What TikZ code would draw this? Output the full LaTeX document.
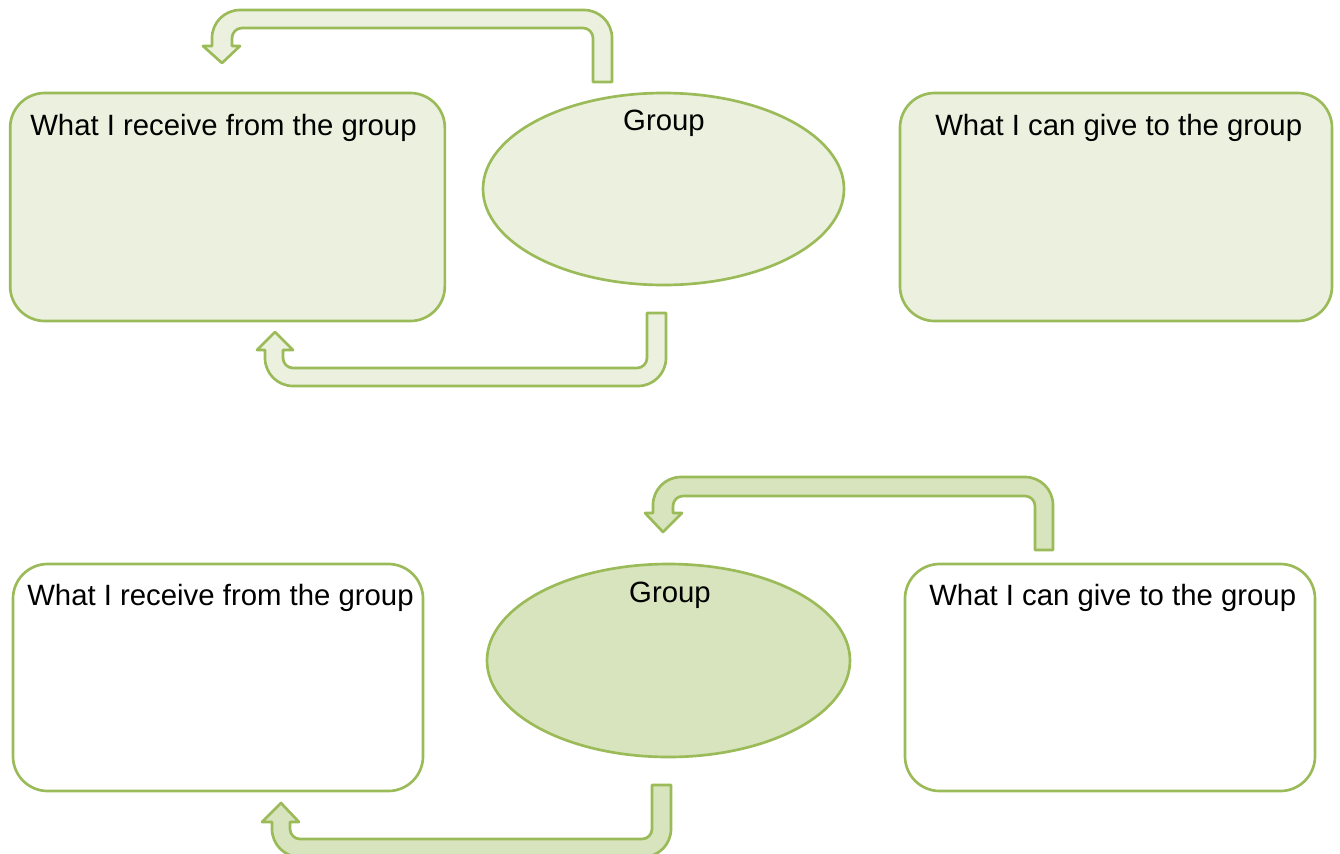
\documentclass[tikz,border=0pt]{standalone}
\usepackage{fontspec}
\setmainfont{Liberation Sans}
\usetikzlibrary{shapes.geometric}
\definecolor{olive}{HTML}{9BBB59}
\definecolor{palegreen}{HTML}{EBF1DE}
\definecolor{midgreen}{HTML}{D7E4BD}
\tikzset{
  outline/.style={draw=olive, line width=2pt, line join=round},
  card/.style={outline, rectangle, rounded corners=26pt, inner sep=0pt},
  oval/.style={outline, ellipse, inner sep=0pt},
  uturn/.style={outline},
  caption/.style={anchor=base west, inner sep=0pt, font=\fontsize{22pt}{26pt}\selectfont},
  ctrcaption/.style={anchor=base, inner sep=0pt, font=\fontsize{22pt}{26pt}\selectfont},
}
\begin{document}
\begin{tikzpicture}[x=0.75pt, y=-0.75pt]
\useasboundingbox (0,0) rectangle (1340,854);
\clip (0,0) rectangle (1340,854);

% ---------- upper cycle ----------
\node[card, fill=palegreen, minimum width=326pt, minimum height=171pt] (recvA) at (227.5,207) {};
\node[card, fill=palegreen, minimum width=324pt, minimum height=171pt] (giveA) at (1116,207) {};
\node[oval, fill=palegreen, minimum width=270.75pt, minimum height=144pt] (groupA) at (663.5,189) {};
\node[caption] (recvAtxt) at (30,135) {What I receive from the group};
\node[caption] (giveAtxt) at (935,135) {What I can give to the group};
\node[ctrcaption] (groupAtxt) at (664,130) {Group};

% arrow from the group over to the receiving box
\path[uturn, fill=palegreen]
  (602,82) -- (612,82) [rounded corners=21pt] -- (612,10) -- (212,10)
  [sharp corners] -- (212,46) -- (203,46) -- (222,63) -- (240,46) -- (232,46)
  [rounded corners=7.5pt] -- (232,28) -- (593,28) [sharp corners] -- (593,82) -- cycle;

% arrow from under the group back to the receiving box
\path[uturn, fill=palegreen]
  (647,313) -- (666,313) [rounded corners=21pt] -- (666,386) -- (265,386)
  [sharp corners] -- (265,350) -- (257,350) -- (275,332) -- (293,350) -- (283,350)
  [rounded corners=7.5pt] -- (283,368) -- (647,368) [sharp corners] -- (647,313) -- cycle;

% ---------- lower cycle ----------
\node[card, fill=white, minimum width=307.5pt, minimum height=170.25pt] (recvB) at (218,677.5) {};
\node[card, fill=white, minimum width=307.5pt, minimum height=170.25pt] (giveB) at (1110,677.5) {};
\node[oval, fill=midgreen, minimum width=272.25pt, minimum height=144.75pt] (groupB) at (668.5,660.5) {};
\node[caption] (recvBtxt) at (27,605) {What I receive from the group};
\node[caption] (giveBtxt) at (929,605) {What I can give to the group};
\node[ctrcaption] (groupBtxt) at (670,602) {Group};

% arrow from the giving box over to the group
\path[uturn, fill=midgreen]
  (1044,550) -- (1053,550) [rounded corners=21pt] -- (1053,477) -- (653,477)
  [sharp corners] -- (653,513) -- (645,513) -- (663,532) -- (682,513) -- (673,513)
  [rounded corners=7.5pt] -- (673,496) -- (1035,496) [sharp corners] -- (1035,550) -- cycle;

% arrow from under the group back to the receiving box
\path[uturn, fill=midgreen]
  (652,785) -- (671,785) [rounded corners=21pt] -- (671,857) -- (272,857)
  [sharp corners] -- (272,822) -- (262,822) -- (281,803) -- (299,822) -- (290,822)
  [rounded corners=7.5pt] -- (290,839) -- (652,839) [sharp corners] -- (652,785) -- cycle;
\end{tikzpicture}
\end{document}
